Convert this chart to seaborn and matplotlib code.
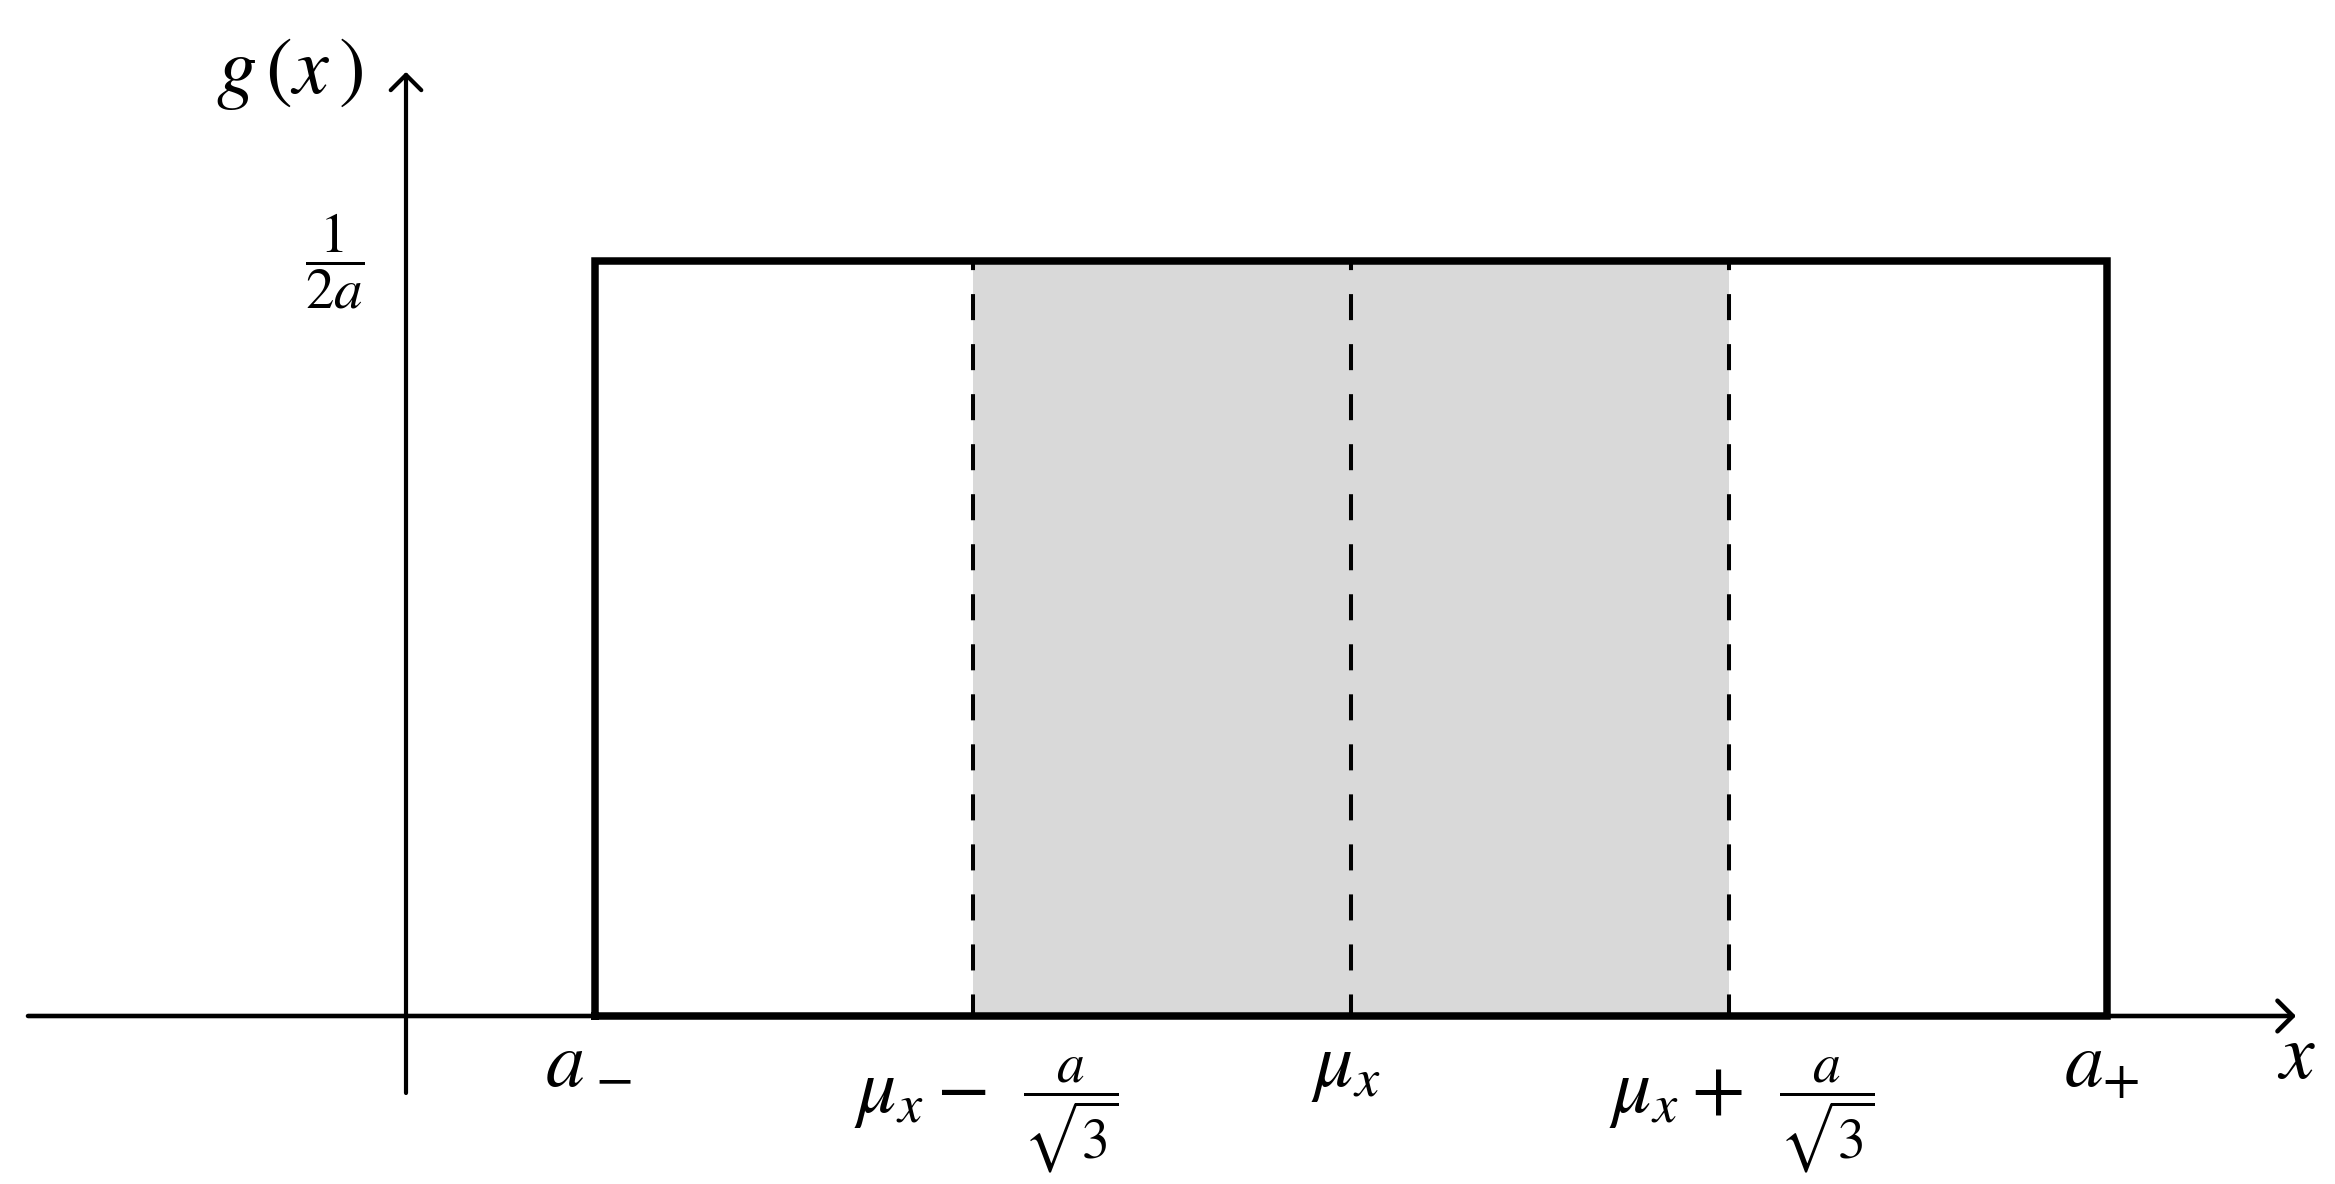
import matplotlib
matplotlib.use("Agg")
import matplotlib.pyplot as plt
import seaborn as sns
import pandas as pd

# ---- data ----
mu_x = 2.5
half_width = 2.0                      # a
density = 1.0 / (2 * half_width)      # 1/(2a)
rect_x = [0.5, 0.5, 4.5, 4.5, 0.5]
rect_y = [0.0, 0.25, 0.25, 0.0, 0.0]
band_x = [1.5, 3.5]
dash_x = [1.5, 2.5, 3.5]
a_minus_x = 0.5
tick_x = [2.5, 4.5]
tick_labels = [r"$\mu_x$", r"$a_{+}$"]
frac_tick_x = [1.5, 3.5]
frac_tick_main = ["$\\mu_x \u2212$", r"$\mu_x +$"]
frac_tick_frac = [r"$\dfrac{a}{\sqrt{3}}$", r"$\dfrac{a}{\sqrt{3}}$"]
ytick_y = [0.25]
ytick_labels = [r"$\dfrac{1}{2a}$"]
xaxis_range = [-1.0, 5.0]
yaxis_range = [-0.0255, 0.3126]

sns.set_theme(style="white")
plt.rcParams["mathtext.fontset"] = "stix"
plt.rcParams["font.family"] = ["STIXGeneral", "DejaVu Sans"]

fig = plt.figure(figsize=(23.35, 11.84), dpi=100)
ax = fig.add_axes([0, 0, 1, 1])

# shaded band
ax.fill_between(band_x, [0, 0], [density, density], color="#d9d9d9", lw=0, zorder=1)

# dashed lines
for xv in dash_x:
    ax.plot([xv, xv], [density, 0], color="black", lw=2.9,
            linestyle=(4.2, (6.46, 5.96)), zorder=2)

# axes with arrows
arrow_style = "->,head_length=0.55,head_width=0.55"
ax.annotate("", xy=(xaxis_range[1], 0), xytext=(xaxis_range[0], 0),
            arrowprops=dict(arrowstyle=arrow_style, lw=3.3, color="black",
                            shrinkA=0, shrinkB=0, mutation_scale=20), zorder=3)
ax.annotate("", xy=(0, yaxis_range[1]), xytext=(0, yaxis_range[0]),
            arrowprops=dict(arrowstyle=arrow_style, lw=3.0, color="black",
                            shrinkA=0, shrinkB=0, mutation_scale=20), zorder=3)

# rectangle (uniform density)
df = pd.DataFrame({"x": rect_x, "y": rect_y})
sns.lineplot(data=df, x="x", y="y", sort=False, estimator=None,
             color="black", lw=5.4, ax=ax, zorder=4)
ax.lines[-1].set_solid_joinstyle("miter")
ax.lines[-1].set_solid_capstyle("projecting")
ax.set_xlim(-1.0741, 5.1032)
ax.set_ylim(-0.05563, 0.33642)
ax.axis("off")

fs_main = 56
fs_frac = 40

def lab(text, xy, off, size, ha="center", va="baseline", **kw):
    ax.annotate(text, xy=xy, xytext=off, textcoords="offset pixels",
                ha=ha, va=va, fontsize=size, color="black",
                annotation_clip=False, **kw)

# a_-  (letter + lowered minus sign)
lab(r"$a$", (a_minus_x, 0), (-30, -70), fs_main)
lab("\u2212", (a_minus_x, 0), (19, -66), 40, va="center",
    family=["STIXGeneral", "DejaVu Sans"])

for xv, t in zip(tick_x, tick_labels):
    lab(t, (xv, 0), (-5, -70), fs_main)

for xv, t1, t2 in zip(frac_tick_x, frac_tick_main, frac_tick_frac):
    lab(t1, (xv, 0), (14, -96), fs_main, ha="right")
    lab(t2, (xv, 0), (50, -88), fs_frac, ha="left")

for yv, t in zip(ytick_y, ytick_labels):
    lab(t, (0, yv), (-71, 0), 41, va="center")

lab(r"$g\,(x\,)$", (0, yaxis_range[1]), (-116, -21), fs_main + 2)
lab(r"$x$", (xaxis_range[1], 0), (0, -62), fs_main)

fig.savefig("out.png", dpi=100)
